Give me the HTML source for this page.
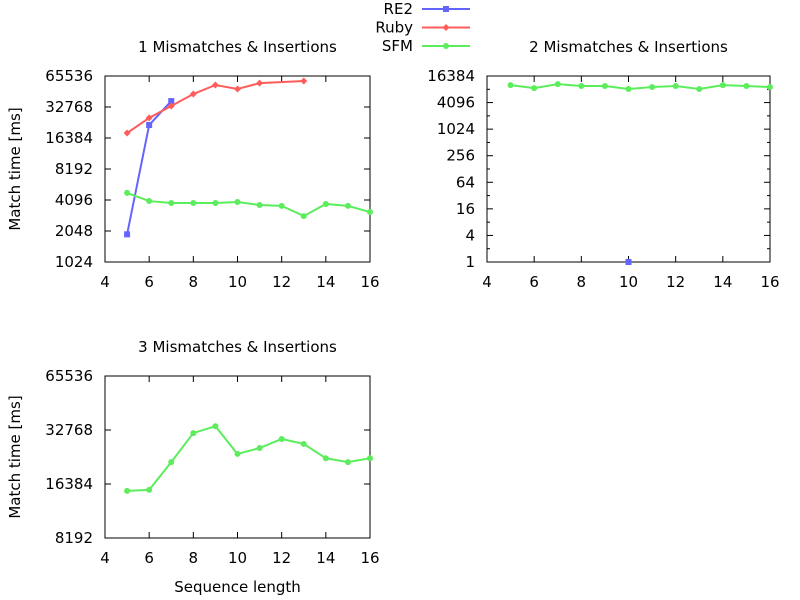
<!DOCTYPE html>
<html><head><meta charset="utf-8"><style>
body{margin:0;background:#fff}
svg{display:block;font-family:"DejaVu Sans","Liberation Sans",sans-serif;font-size:15px}
</style></head><body>
<svg id="c" width="800" height="600"></svg>
<script>
const xs = [5,6,7,8,9,10,11,12,13,14,15,16];
const p1RE2 = [1900,21900,37400];
const p1Ruby = [18300,25700,33500,43800,53600,49000,55900,58600];
const p1RubyX = [5,6,7,8,9,10,11,13];
const p1SFM = [4800,4000,3830,3830,3830,3920,3660,3590,2860,3750,3590,3130];
const p2SFM = [10200,8700,10750,9700,9700,8300,9200,9700,8300,10200,9700,9200];
const p2RE2X = [10];
const p2RE2 = [1];
const p3SFM = [15000,15200,21700,31500,34400,24100,26000,29200,27400,22800,21700,22800];
const xTicks = [4,6,8,10,12,14,16];
const y1Ticks = [1024,2048,4096,8192,16384,32768,65536];
const y2Ticks = [1,4,16,64,256,1024,4096,16384];
const y3Ticks = [8192,16384,32768,65536];

const NS="http://www.w3.org/2000/svg";
const svg=document.getElementById('c');
function el(t,a,p){const e=document.createElementNS(NS,t);for(const k in a)e.setAttribute(k,a[k]);(p||svg).appendChild(e);return e;}
function txt(s,a,p){const e=el('text',a,p);e.textContent=s;return e;}
const BLUE='#6464ff',RED='#ff5c5c',GREEN='#5ced5c';

function panel(name,box,ymin,ymax,yt,minor,title,yl,xl){
  const g=el('g',{});
  
  
  const X=v=>box.l+(v-4)/12*(box.r-box.l);
  const Y=v=>box.b-(Math.log2(v)-Math.log2(ymin))/(Math.log2(ymax)-Math.log2(ymin))*(box.b-box.t);
  el('rect',{x:box.l,y:box.t,width:box.r-box.l,height:box.b-box.t,fill:'none',stroke:'#000','stroke-width':1},g);
  xTicks.forEach(v=>{const x=X(v);
    el('line',{x1:x,x2:x,y1:box.b,y2:box.b-6,stroke:'#000'},g);
    el('line',{x1:x,x2:x,y1:box.t,y2:box.t+6,stroke:'#000'},g);
    const t=txt(v,{x:x,y:box.b+25,'text-anchor':'middle'},g);
    });
  yt.forEach(v=>{const y=Y(v);
    el('line',{x1:box.l,x2:box.l+6,y1:y,y2:y,stroke:'#000'},g);
    el('line',{x1:box.r,x2:box.r-6,y1:y,y2:y,stroke:'#000'},g);
    const t=txt(v,{x:box.l-12,y:y+5,'text-anchor':'end'},g);
    });
  if(minor){for(let e=Math.log2(ymin)+1;e<Math.log2(ymax);e+=2){const y=Y(Math.pow(2,e));
    el('line',{x1:box.l,x2:box.l+3,y1:y,y2:y,stroke:'#000'},g);
    el('line',{x1:box.r,x2:box.r-3,y1:y,y2:y,stroke:'#000'},g);}}
  const tt=txt(title,{x:(box.l+box.r)/2,y:box.t-24,'text-anchor':'middle'},g);
  
  if(yl){const t=txt('Match time [ms]',{x:0,y:0,'text-anchor':'middle',transform:`translate(20,${(box.t+box.b)/2}) rotate(-90)`},g);
    }
  if(xl){const t=txt('Sequence length',{x:(box.l+box.r)/2,y:box.b+54,'text-anchor':'middle'},g);
    }
  return {g,X,Y};
}
function series(P,xv,yv,col,mk,name){
  const g=el('g',{},P.g);
  
  
  if(xv.length>1)el('polyline',{points:xv.map((x,i)=>P.X(x)+','+P.Y(yv[i])).join(' '),fill:'none',stroke:col,'stroke-width':2},g);
  xv.forEach((x,i)=>{const cx=P.X(x),cy=P.Y(yv[i]);
    if(mk==='sq')el('rect',{x:cx-3,y:cy-3,width:6,height:6,fill:col},g);
    else if(mk==='d')el('polygon',{points:`${cx},${cy-3.5} ${cx+3.5},${cy} ${cx},${cy+3.5} ${cx-3.5},${cy}`,fill:col},g);
    else el('circle',{cx,cy,r:3,fill:col},g);});
}
const P1=panel('panel-1',{l:105,r:370,t:76,b:262},1024,65536,y1Ticks,false,'1 Mismatches & Insertions',true,false);
series(P1,xs.slice(0,3),p1RE2,BLUE,'sq','p1-re2');
series(P1,p1RubyX,p1Ruby,RED,'d','p1-ruby');
series(P1,xs,p1SFM,GREEN,'c','p1-sfm');
const P2=panel('panel-2',{l:487,r:770,t:76,b:262},1,16384,y2Ticks,true,'2 Mismatches & Insertions',false,false);
series(P2,xs,p2SFM,GREEN,'c','p2-sfm');
series(P2,p2RE2X,p2RE2,BLUE,'sq','p2-re2');
const P3=panel('panel-3',{l:105,r:370,t:376,b:538},8192,65536,y3Ticks,false,'3 Mismatches & Insertions',true,true);
series(P3,xs,p3SFM,GREEN,'c','p3-sfm');

const lg=el('g',{});


[['RE2',BLUE,'sq'],['Ruby',RED,'d'],['SFM',GREEN,'c']].forEach((s,i)=>{
  const y=9+i*18.5;
  const e=el('g',{},lg);
  
  
  txt(s[0],{x:413,y:y+5,'text-anchor':'end'},e);
  el('line',{x1:422,x2:470,y1:y,y2:y,stroke:s[1],'stroke-width':2},e);
  const cx=446;
  if(s[2]==='sq')el('rect',{x:cx-3,y:y-3,width:6,height:6,fill:s[1]},e);
  else if(s[2]==='d')el('polygon',{points:`${cx},${y-3.5} ${cx+3.5},${y} ${cx},${y+3.5} ${cx-3.5},${y}`,fill:s[1]},e);
  else el('circle',{cx,cy:y,r:3,fill:s[1]},e);
});
</script>
</body></html>
